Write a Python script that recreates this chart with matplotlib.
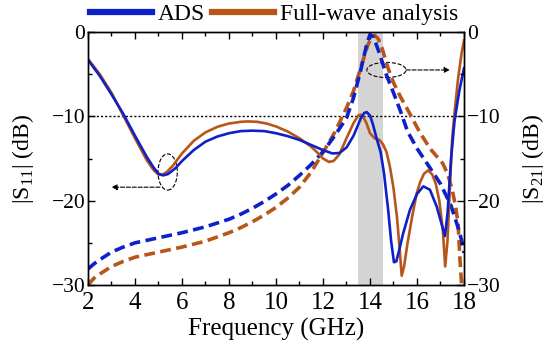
import matplotlib
matplotlib.use("Agg")
import matplotlib.pyplot as plt
from matplotlib.patches import Ellipse
from matplotlib.ticker import MultipleLocator

# |S11| (solid) and |S21| (dashed), ADS vs full-wave
f_s11_ads = [2, 2.5, 3, 3.5, 4, 4.5, 4.8, 5.0, 5.2, 5.4, 5.7, 6, 6.5, 7, 7.5, 8, 8.5,
             9, 9.5, 10, 10.5, 11, 11.5, 12, 12.4, 12.7, 13.0, 13.3, 13.6, 13.75, 13.86,
             14.0, 14.13, 14.3, 14.45, 14.6, 14.77, 14.9, 15.02, 15.12, 15.25, 15.4,
             15.7, 16.0, 16.27, 16.55, 16.84, 17.05, 17.19, 17.3, 17.45, 17.6, 17.8, 18]
s11_ads = [-3.3, -5.2, -7.4, -9.7, -12.3, -14.8, -16.1, -16.8, -17.0, -16.85, -16.2,
           -15.3, -14.0, -13.0, -12.4, -12.0, -11.75, -11.7, -11.75, -12.0, -12.35,
           -12.8, -13.4, -14.0, -14.4, -14.35, -13.7, -12.3, -10.3, -9.6, -9.5, -9.9,
           -11.0, -12.8, -14.2, -16.8, -21.0, -24.8, -27.3, -27.2, -25.8, -24.0, -21.1,
           -19.2, -18.3, -18.7, -20.7, -22.8, -24.2, -21.5, -15.0, -10.5, -7.0, -4.3]

f_s11_fw = [2, 2.5, 3, 3.5, 4, 4.5, 4.8, 5.0, 5.15, 5.35, 5.6, 6, 6.5, 7, 7.5, 8, 8.5,
            8.8, 9.2, 9.6, 10, 10.5, 11, 11.5, 11.8, 12.0, 12.25, 12.45, 12.7, 13.0,
            13.3, 13.5, 13.6, 13.7, 13.85, 14.0, 14.2, 14.4, 14.55, 14.7, 14.85, 15.0,
            15.15, 15.27, 15.35, 15.45, 15.6, 15.8, 16.0, 16.15, 16.3, 16.48, 16.65,
            16.8, 16.95, 17.1, 17.2, 17.3, 17.4, 17.5, 17.6, 17.75, 17.9, 18]
s11_fw = [-3.2, -5.0, -7.2, -9.9, -12.6, -15.2, -16.4, -16.9, -16.95, -16.6, -15.9,
          -14.4, -12.9, -11.9, -11.25, -10.85, -10.65, -10.6, -10.65, -10.85, -11.2,
          -11.8, -12.6, -13.6, -14.4, -15.0, -15.4, -15.3, -14.5, -12.6, -10.8, -9.9,
          -9.8, -10.0, -10.8, -12.0, -12.6, -12.8, -13.3, -14.2, -16.0, -18.5, -22.0,
          -26.0, -28.9, -27.8, -25.0, -21.8, -19.0, -17.7, -16.8, -16.4, -16.9, -18.0,
          -20.0, -23.5, -27.8, -24.7, -18.5, -12.5, -9.5, -5.5, -2.5, -1.0]

f_s21_ads = [2, 2.25, 2.5, 3, 3.5, 4, 4.5, 5, 6, 7, 8, 8.5, 9, 9.5, 10, 10.5, 11, 11.5,
             12, 12.5, 13.0, 13.3, 13.6, 13.85, 14.0, 14.15, 14.4, 14.7, 15.0, 15.3,
             15.6, 16.0, 16.55, 17.0, 17.26, 17.45, 17.6, 17.75, 17.9, 18]
s21_ads = [-28.1, -27.5, -27.0, -26.1, -25.5, -25.0, -24.7, -24.4, -23.8, -23.1, -22.2,
           -21.6, -20.9, -20.1, -19.2, -18.2, -17.0, -15.7, -14.2, -12.3, -10.2, -7.8,
           -4.6, -1.6, -0.3, -0.6, -2.5, -5.1, -7.2, -9.4, -11.8, -13.8, -16.1, -18.0,
           -19.5, -20.6, -21.9, -23.2, -24.7, -26.2]

f_s21_fw = [2, 2.25, 2.5, 3, 3.5, 4, 4.5, 5, 6, 7, 8, 8.5, 9, 9.5, 10, 10.5, 11, 11.5,
            12, 12.5, 13.0, 13.3, 13.6, 13.9, 14.1, 14.2, 14.35, 14.5, 14.77, 15.0,
            15.3, 15.6, 16.1, 16.55, 17.1, 17.3, 17.5, 17.65, 17.75, 17.83, 17.9]
s21_fw = [-30.0, -29.2, -28.7, -27.8, -27.2, -26.7, -26.4, -26.1, -25.5, -24.8, -23.8,
          -23.2, -22.5, -21.7, -20.8, -19.7, -18.4, -16.6, -14.3, -11.9, -9.0, -7.0,
          -4.3, -1.6, -0.5, -0.4, -0.8, -1.8, -4.3, -6.0, -7.7, -9.2, -11.8, -13.8,
          -15.6, -16.8, -18.7, -20.8, -22.7, -27.0, -30.0]

band = (13.48, 14.57)
blue = "#1020c8"
orange = "#b8561a"

plt.rcParams["font.family"] = ["Liberation Serif", "DejaVu Serif"]
plt.rcParams["mathtext.fontset"] = "custom"
plt.rcParams["mathtext.rm"] = "Liberation Serif"

fig = plt.figure(figsize=(5.5, 3.51), dpi=100)
ax = fig.add_axes([0.16, 0.188, 0.6836, 0.7208])

ax.axvspan(band[0], band[1], color="#d4d4d4", lw=0, zorder=0)
ax.axhline(-10, color="black", ls=(0, (1.5, 1.5)), lw=1.0, zorder=1)

dash = (0, (3.0, 1.5))
ax.plot(f_s21_fw, s21_fw, color=orange, lw=2.6, ls=dash)
ax.plot(f_s21_ads, s21_ads, color=blue, lw=2.6, ls=dash)
ax.plot(f_s11_fw, s11_fw, color=orange, lw=1.9)
ax.plot(f_s11_ads, s11_ads, color=blue, lw=1.9)

# annotation ellipses with arrows
ax.add_patch(Ellipse((5.39, -16.6), 0.82, 4.3, fill=False, ls="--", lw=0.8, color="black"))
ax.annotate("", xy=(3.0, -18.4), xytext=(5.06, -18.4),
            arrowprops=dict(arrowstyle="-|>", ls="--", lw=0.8, color="black",
                            mutation_scale=8, shrinkA=0, shrinkB=0))
ax.add_patch(Ellipse((14.7, -4.5), 1.67, 1.8, fill=False, ls="--", lw=0.8, color="black"))
ax.annotate("", xy=(17.4, -4.5), xytext=(15.54, -4.5),
            arrowprops=dict(arrowstyle="-|>", ls="--", lw=0.8, color="black",
                            mutation_scale=8, shrinkA=0, shrinkB=0))

ax.set_xlim(2, 18)
ax.set_ylim(-30, 0)
ax.xaxis.set_major_locator(MultipleLocator(2))
ax.xaxis.set_minor_locator(MultipleLocator(1))
ax.yaxis.set_major_locator(MultipleLocator(10))
ax.yaxis.set_minor_locator(MultipleLocator(5))
ax.tick_params(which="both", direction="in", top=True, width=1)
ax.tick_params(axis="x", labelsize=18, pad=5)
ax.tick_params(axis="y", labelsize=15.5, pad=2)
ax.tick_params(which="major", length=5)
ax.tick_params(which="minor", length=3)
ax.set_xlabel("Frequency (GHz)", fontsize=18, labelpad=3)
ax.set_ylabel(r"|S$_{11}$| (dB)", fontsize=17, labelpad=11)

ax2 = ax.twinx()
ax2.set_ylim(-30, 0)
ax2.yaxis.set_major_locator(MultipleLocator(10))
ax2.yaxis.set_minor_locator(MultipleLocator(5))
ax2.tick_params(which="both", direction="in", labelsize=15.5, width=1, pad=2)
ax2.tick_params(which="major", length=5)
ax2.tick_params(which="minor", length=3)
ax2.set_ylabel(r"|S$_{21}$| (dB)", fontsize=17, rotation=90, labelpad=14)

for a in (ax, ax2):
    for s in a.spines.values():
        s.set_linewidth(1.0)

h1, = ax.plot([], [], color=blue, lw=4.5)
h2, = ax.plot([], [], color=orange, lw=4.5)
fig.legend([h1, h2], ["ADS", "Full-wave analysis"], loc="center left",
           bbox_to_anchor=(90 / 550, 1 - 14 / 351), ncol=2, frameon=False, fontsize=17,
           borderpad=0, borderaxespad=0, handlelength=2.63, handletextpad=0.25,
           columnspacing=0.3)

fig.savefig("out.png", dpi=100)
